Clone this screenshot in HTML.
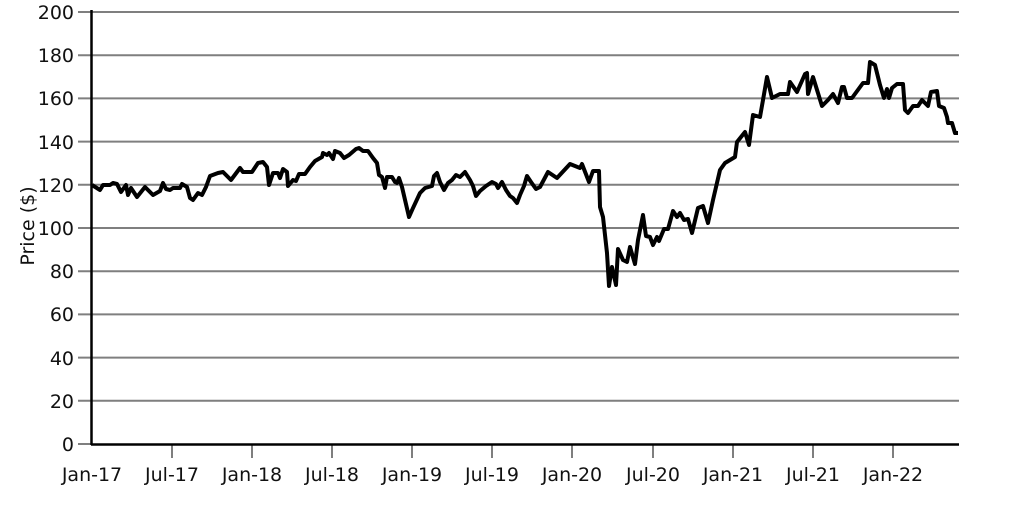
<!DOCTYPE html>
<html><head><meta charset="utf-8"><style>
html,body{margin:0;padding:0;background:#fff;}
svg{display:block;font-family:"DejaVu Sans","Liberation Sans",sans-serif;}
</style></head><body>
<svg width="1031" height="516" viewBox="0 0 1031 516">
<g stroke="#7f7f7f" stroke-width="2">
<line x1="78" y1="12" x2="959" y2="12"/>
<line x1="78" y1="55.2" x2="959" y2="55.2"/>
<line x1="78" y1="98.4" x2="959" y2="98.4"/>
<line x1="78" y1="141.6" x2="959" y2="141.6"/>
<line x1="78" y1="184.8" x2="959" y2="184.8"/>
<line x1="78" y1="228" x2="959" y2="228"/>
<line x1="78" y1="271.2" x2="959" y2="271.2"/>
<line x1="78" y1="314.4" x2="959" y2="314.4"/>
<line x1="78" y1="357.6" x2="959" y2="357.6"/>
<line x1="78" y1="400.8" x2="959" y2="400.8"/>
<line x1="78" y1="444" x2="91" y2="444"/>
<line x1="172" y1="444" x2="172" y2="458"/>
<line x1="252" y1="444" x2="252" y2="458"/>
<line x1="332" y1="444" x2="332" y2="458"/>
<line x1="412" y1="444" x2="412" y2="458"/>
<line x1="492" y1="444" x2="492" y2="458"/>
<line x1="572" y1="444" x2="572" y2="458"/>
<line x1="653" y1="444" x2="653" y2="458"/>
<line x1="733" y1="444" x2="733" y2="458"/>
<line x1="813" y1="444" x2="813" y2="458"/>
<line x1="893" y1="444" x2="893" y2="458"/>
</g>
<g stroke="#000" stroke-width="2.5">
<line x1="91.5" y1="10" x2="91.5" y2="445"/>
<line x1="91" y1="444.5" x2="959" y2="444.5"/>
</g>
<g font-size="19" fill="#111" text-anchor="end">
<text x="74" y="19">200</text><text x="74" y="62">180</text><text x="74" y="105">160</text>
<text x="74" y="149">140</text><text x="74" y="192">120</text><text x="74" y="235">100</text>
<text x="74" y="278">80</text><text x="74" y="321">60</text><text x="74" y="365">40</text>
<text x="74" y="408">20</text><text x="74" y="451">0</text>
</g>
<g font-size="19" fill="#111" text-anchor="middle">
<text x="92" y="481">Jan-17</text><text x="172" y="481">Jul-17</text><text x="252" y="481">Jan-18</text>
<text x="332" y="481">Jul-18</text><text x="412" y="481">Jan-19</text><text x="492" y="481">Jul-19</text>
<text x="572" y="481">Jan-20</text><text x="653" y="481">Jul-20</text><text x="733" y="481">Jan-21</text>
<text x="813" y="481">Jul-21</text><text x="893" y="481">Jan-22</text>
</g>
<text font-size="19" fill="#111" text-anchor="middle" transform="translate(34,226) rotate(-90)">Price ($)</text>
<polyline fill="none" stroke="#000" stroke-width="4" stroke-linejoin="round" points="
92,185 100,190 103,185 110,185 113,183 117,184 121,192 126,185 128,195 131,188 137,197 145,187 153,195 160,191 163,183 166,189 170,190 173,188 180,188 182,184 187,187 190,198 193,200 198,193 202,195 206,187 210,176 218,173 223,172 231,180 237,172 240,168 243,172 252,172 258,163 263,162 267,167 269,185 273,173 278,173 280,178 283,169 287,172 288,186 293,180 296,181 299,174 305,174 310,167 315,161 322,157 323,153 327,155 329,153 333,159 335,151 340,153 344,158 349,155 356,149 359,148 363,151 368,151 373,158 377,163 379,175 382,177 385,188 387,177 392,177 395,182 397,183 399,178 402,187 409,217 413,208 420,193 425,188 432,186 434,176 437,173 440,182 444,190 448,183 452,180 456,175 460,177 465,172 470,180 473,186 476,196 480,191 486,186 492,182 496,184 498,188 502,182 506,190 510,196 513,198 517,203 520,195 524,186 527,176 531,182 536,189 540,187 548,172 557,178 570,164 580,168 582,164 589,182 593,171 599,171 600,207 603,217 607,253 609,286 612,267 616,285 618,249 623,260 627,262 630,247 635,264 638,240 643,215 646,236 650,237 653,245 657,237 659,241 664,229 668,229 673,211 677,217 680,213 684,220 688,219 692,233 698,208 703,206 708,223 713,200 720,170 725,163 730,160 735,157 737,142 745,132 749,145 753,115 760,117 763,100 767,77 772,98 780,94 788,94 790,82 797,92 805,74 807,73 808,94 813,77 822,106 828,100 833,94 838,103 842,87 844,87 847,98 852,98 863,83 868,83 870,62 875,65 880,85 884,98 887,89 889,98 892,88 897,84 903,84 905,110 908,113 913,106 918,106 922,100 928,106 931,92 937,91 939,106 944,108 947,117 948,123 952,123 955,133 958,133"/>
</svg>
</body></html>
